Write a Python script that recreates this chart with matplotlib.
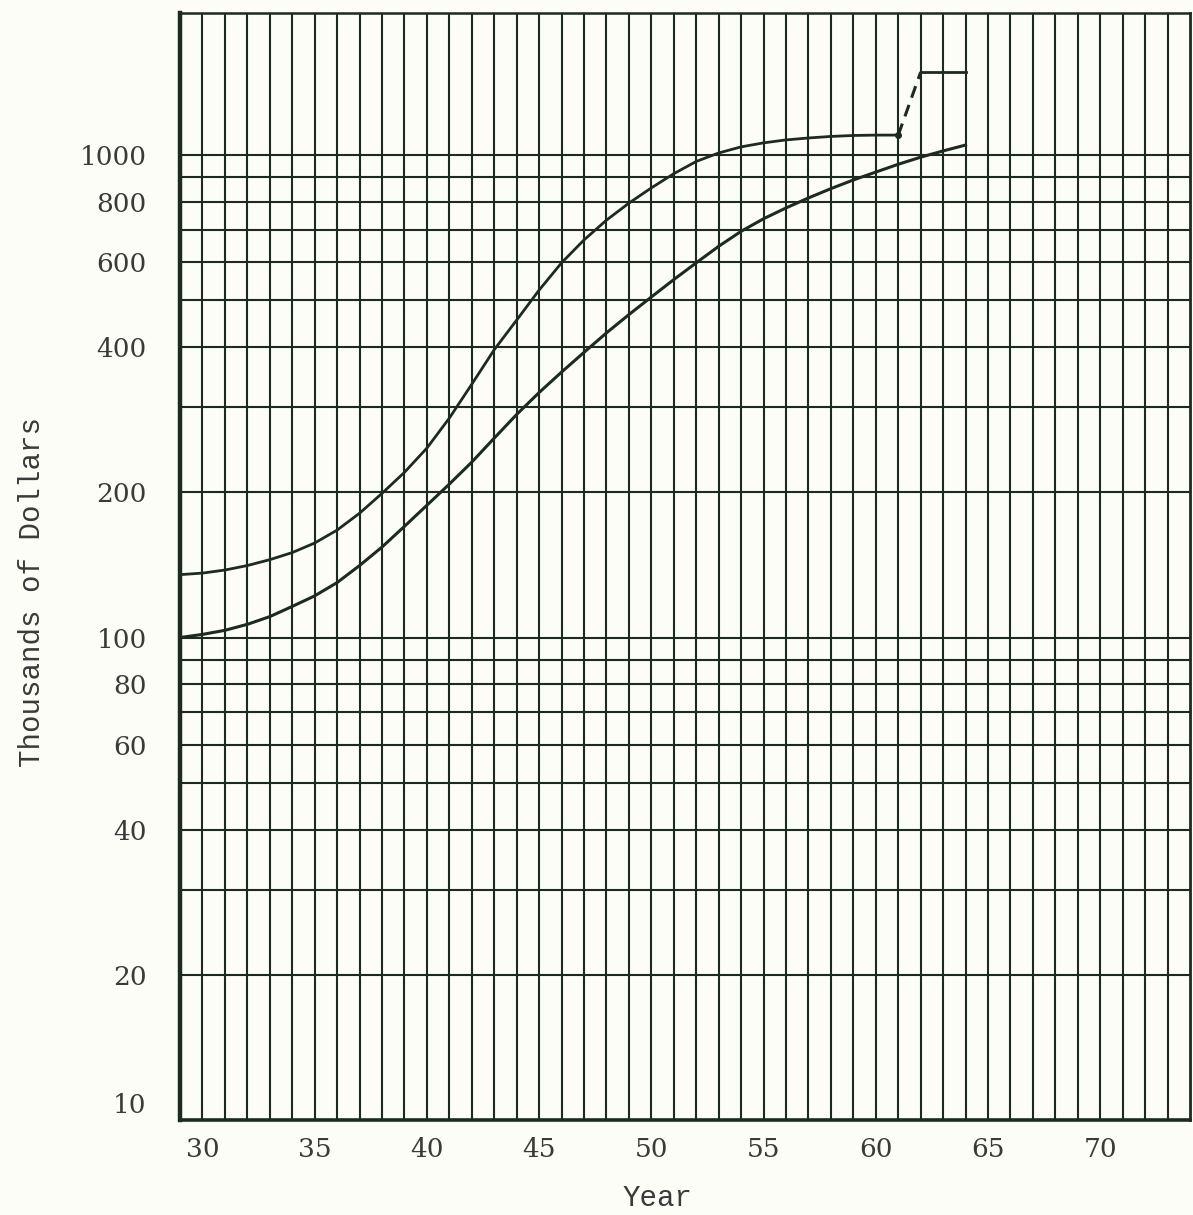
import matplotlib
matplotlib.use("Agg")
import matplotlib.pyplot as plt
import matplotlib.transforms as mtransforms
from matplotlib.ticker import FixedLocator, NullFormatter

# values (thousands of dollars, log scale)
years_upper = [29, 30, 31, 32, 33, 34, 35, 36, 37, 38, 39, 40, 41, 42, 43, 44, 45,
               46, 47, 48, 49, 50, 51, 52, 53, 54, 55, 56, 57, 58, 59, 60, 61]
upper = [135, 136, 138, 141, 145, 150, 157, 167, 181, 199, 220, 247, 285, 335, 395, 455, 525,
         598, 667, 733, 795, 855, 915, 970, 1010, 1040, 1060, 1075, 1085, 1093, 1098, 1100, 1100]

years_lower = [29, 30, 31, 32, 33, 34, 35, 36, 37, 38, 39, 40, 41, 42, 43, 44, 45, 46,
               47, 48, 49, 50, 51, 52, 53, 54, 55, 56, 57, 58, 59, 60, 61, 62, 63, 64]
lower = [100, 101.5, 103.5, 106.5, 110.5, 116, 122, 130, 141, 154, 170, 188, 208, 231, 259, 290, 322, 355,
         390, 428, 467, 508, 552, 598, 647, 695, 738, 777, 815, 852, 888, 922, 957, 990, 1020, 1049]

jump_years = [61, 62]
jump_vals = [1100, 1486]
step_years = [62, 64]
step_vals = [1486, 1486]

x_labels = [30, 35, 40, 45, 50, 55, 60, 65, 70]
x_minor = [y for y in range(30, 74) if y not in x_labels]
y_labels = [10, 20, 40, 60, 80, 100, 200, 400, 600, 800, 1000]
y_minor = [30, 50, 70, 90, 300, 500, 700, 900]

ink = "#1d2a21"
paper = "#fdfdf8"
text_col = "#3a3a3a"

fig = plt.figure(figsize=(11.93, 12.15), dpi=100, facecolor=paper)
ax = fig.add_axes([0.1509, 0.0782, 0.8466, 0.9111], facecolor=paper)

ax.set_yscale("log")
ax.set_xlim(29, 74)
ax.set_ylim(10, 1970)

ax.xaxis.set_major_locator(FixedLocator(x_labels))
ax.xaxis.set_minor_locator(FixedLocator(x_minor))
ax.yaxis.set_major_locator(FixedLocator(y_labels))
ax.yaxis.set_minor_locator(FixedLocator(y_minor))
ax.set_xticklabels([str(v) for v in x_labels])
ax.set_yticklabels([str(v) for v in y_labels])
ax.yaxis.set_minor_formatter(NullFormatter())
ax.xaxis.set_minor_formatter(NullFormatter())

ax.grid(True, which="both", color=ink, lw=1.5)
ax.set_axisbelow(True)
ax.tick_params(which="both", length=0)
ax.tick_params(axis="x", pad=12, labelsize=19, labelcolor=text_col)
ax.tick_params(axis="y", pad=24, labelsize=19, labelcolor=text_col)
for lab in ax.get_xticklabels() + ax.get_yticklabels():
    lab.set_family("DejaVu Serif")

# the "10" label sits a little above the bottom line
lab10 = ax.get_yticklabels()[0]
lab10.set_transform(lab10.get_transform() + mtransforms.ScaledTranslation(0, 0.17, fig.dpi_scale_trans))

for side, w in [("left", 3.2), ("bottom", 2.6), ("top", 1.8), ("right", 2.0)]:
    ax.spines[side].set_color(ink)
    ax.spines[side].set_linewidth(w)

ax.plot(years_upper, upper, color=ink, lw=2.0)
ax.plot(years_lower, lower, color=ink, lw=2.2)
ax.plot(jump_years, jump_vals, color=ink, lw=2.2, linestyle=(0, (4, 2.5)))
ax.plot(step_years, step_vals, color=ink, lw=2.0)
ax.plot([jump_years[0]], [jump_vals[0]], "o", color=ink, ms=4)

ax.set_xlabel("Year", family="Liberation Mono", fontsize=21, color=text_col)
ax.xaxis.label.set_va("center")
ax.xaxis.set_label_coords(0.473, -0.0705)
ax.set_ylabel("Thousands of Dollars", family="Liberation Mono", fontsize=21, color=text_col)
ax.yaxis.set_label_coords(-0.133, 0.477)

fig.savefig("out.png", dpi=100, facecolor=paper)
